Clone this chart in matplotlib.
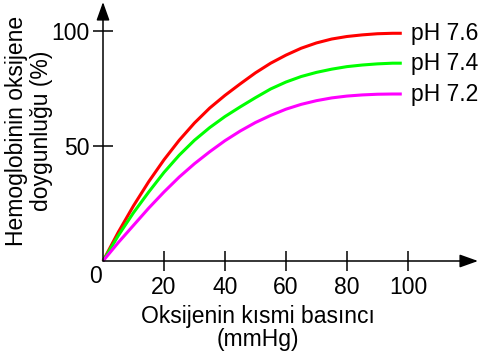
import matplotlib
matplotlib.use('Agg')
import matplotlib.pyplot as plt

plt.rcParams['font.family'] = ['Liberation Sans', 'DejaVu Sans']

# partial pressure of O2 (mmHg)
po2 = [0, 5, 10, 15, 20, 25, 30, 35, 40, 45, 50, 55, 60, 65, 70, 75, 80, 85, 90, 95, 98]
# saturation (%) for each pH
sat_76 = [0, 12.5, 24, 34.5, 44, 52.5, 60, 66.5, 72, 77, 81.8, 86, 89.5, 92.5, 94.8, 96.5, 97.6, 98.3, 98.8, 99, 99]
sat_74 = [0, 11, 21, 30, 38.5, 46, 52.5, 58, 62.8, 67, 71, 74.8, 77.8, 80.2, 82, 83.4, 84.5, 85.2, 85.7, 86, 86]
sat_72 = [0, 8, 15.5, 23, 30, 36.5, 42.3, 47.5, 52.3, 56.5, 60.2, 63.3, 66, 68.1, 69.7, 70.9, 71.7, 72.2, 72.5, 72.6, 72.6]

series = [('pH 7.6', sat_76, '#ff0000'),
          ('pH 7.4', sat_74, '#00ff00'),
          ('pH 7.2', sat_72, '#ff00ff')]

xticks = [20, 40, 60, 80, 100]
yticks = [50, 100]

fs = 16.5

fig = plt.figure(figsize=(4.81, 3.59), dpi=100)
ax = fig.add_axes([103 / 481, 98 / 359, 375 / 481, 259 / 359])

for label, s, c in series:
    ax.plot(po2, s, color=c, lw=2.2, solid_capstyle='butt',
            solid_joinstyle='round', clip_on=False)
    ax.text(po2[-1] + 3.0, s[-1], label, fontsize=fs, va='center', ha='left')

ax.set_xlim(0, 123)
ax.set_ylim(0, 112.6)

for sp in ax.spines.values():
    sp.set_visible(False)

# axes with arrow heads
ax.annotate('', xy=(1, 0), xytext=(0, 0), xycoords='axes fraction',
            arrowprops=dict(arrowstyle='-|>,head_length=0.7,head_width=0.25',
                            color='black', lw=1.1,
                            mutation_scale=16, shrinkA=0, shrinkB=0))
ax.annotate('', xy=(0, 1), xytext=(0, 0), xycoords='axes fraction',
            arrowprops=dict(arrowstyle='-|>,head_length=0.7,head_width=0.25',
                            color='black', lw=1.1,
                            mutation_scale=16, shrinkA=0, shrinkB=0))

ax.set_xticks(xticks)
ax.set_yticks(yticks)
ax.tick_params(direction='inout', length=14, width=1.1, labelsize=fs)
ax.tick_params(axis='x', pad=4)
ax.tick_params(axis='y', pad=3)

ax.text(-2.6, -6.7, '0', fontsize=fs, ha='center', va='center')

fig.text(258 / 481, 1 - 328 / 359, 'Oksijenin kısmi basıncı\n(mmHg)',
         fontsize=fs, ha='center', va='center', linespacing=1.0)
fig.text(29 / 481, 1 - 131 / 359, 'Hemoglobinin oksijene\ndoygunluğu (%)',
         fontsize=fs, ha='center', va='center', rotation=90, linespacing=1.1)

fig.savefig('out.png', dpi=100)
